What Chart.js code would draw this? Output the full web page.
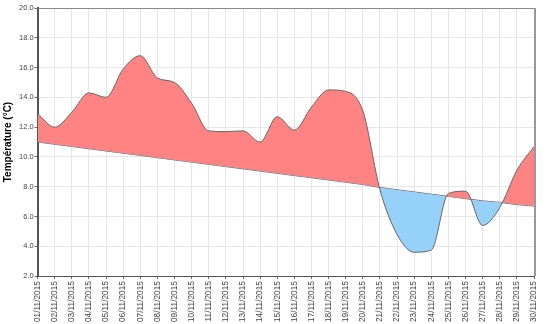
<!DOCTYPE html>
<html>
<head>
<meta charset="utf-8">
<script src="https://cdn.jsdelivr.net/npm/chart.js@4"></script>
<style>
  html, body { margin: 0; padding: 0; background: #fff; }
  #wrap { width: 550px; height: 324px; }
</style>
</head>
<body>
<div id="wrap"><canvas id="tempChart"></canvas></div>
<script>
// dates
var days = ["01/11/2015", "02/11/2015", "03/11/2015", "04/11/2015", "05/11/2015",
  "06/11/2015", "07/11/2015", "08/11/2015", "09/11/2015", "10/11/2015",
  "11/11/2015", "12/11/2015", "13/11/2015", "14/11/2015", "15/11/2015",
  "16/11/2015", "17/11/2015", "18/11/2015", "19/11/2015", "20/11/2015",
  "21/11/2015", "22/11/2015", "23/11/2015", "24/11/2015", "25/11/2015",
  "26/11/2015", "27/11/2015", "28/11/2015", "29/11/2015", "30/11/2015"];

// daily temperature
var temps = [12.9, 12.0, 13.0, 14.3, 14.0, 15.9, 16.8, 15.3, 15.0, 13.6,
  11.75, 11.7, 11.75, 11.0, 12.7, 11.8, 13.35, 14.5, 14.4, 13.1,
  7.8, 4.8, 3.6, 3.75, 7.55, 7.7, 5.4, 6.6, 9.1, 10.7];

// trend line
var trend = [11.0, 10.85, 10.70, 10.55, 10.40, 10.25, 10.10, 9.95, 9.80, 9.65,
  9.50, 9.35, 9.20, 9.05, 8.90, 8.75, 8.60, 8.45, 8.30, 8.15,
  7.95, 7.80, 7.65, 7.50, 7.35, 7.20, 7.05, 6.95, 6.80, 6.70];

var yTicks = [2, 4, 6, 8, 10, 12, 14, 16, 18, 20];

// frame on top and right side
var frame = {
  id: 'frame',
  afterDraw: function(chart) {
    var a = chart.chartArea;
    var c = chart.ctx;
    c.save();
    c.strokeStyle = '#888';
    c.lineWidth = 1;
    c.beginPath();
    c.moveTo(a.left, a.top + 0.5);
    c.lineTo(a.right, a.top + 0.5);
    c.stroke();
    c.strokeStyle = '#999';
    c.lineWidth = 2;
    c.beginPath();
    c.moveTo(a.right + 1, a.top);
    c.lineTo(a.right + 1, a.bottom);
    c.stroke();
    c.restore();
  }
};

var ctx = document.getElementById('tempChart').getContext('2d');
var chart = new Chart(ctx, {
  type: 'line',
  data: {
    labels: days,
    datasets: [{
      label: 'Température',
      data: temps,
      borderColor: '#666',
      borderWidth: 1,
      pointRadius: 0,
      tension: 0.4,
      cubicInterpolationMode: 'monotone',
      fill: { target: 1, above: '#FF8383', below: '#96D1FA' }
    },
    {
      label: 'Tendance',
      data: trend,
      borderColor: '#666',
      borderWidth: 1,
      pointRadius: 0,
      tension: 0,
      fill: false
    }]
  },
  options: {
    responsive: true,
    maintainAspectRatio: false,
    animation: false,
    layout: { padding: { top: 8, right: 16, left: 2, bottom: 0 } },
    plugins: {
      legend: { display: false },
      tooltip: { enabled: false }
    },
    scales: {
      x: {
        offset: false,
        grid: { color: '#e6e6e6', drawTicks: true, tickLength: 3, tickColor: '#666' },
        border: { color: '#555', width: 1 },
        ticks: {
          color: '#444',
          font: { family: 'Liberation Sans', size: 8.3 },
          minRotation: 90,
          maxRotation: 90,
          autoSkip: false,
          padding: 2
        }
      },
      y: {
        min: 2,
        max: 20,
        afterBuildTicks: function(axis) {
          axis.ticks = yTicks.map(function(v) { return { value: v }; });
        },
        grid: { color: '#e6e6e6', tickLength: 3, tickColor: '#666' },
        border: { color: '#555', width: 2 },
        ticks: {
          color: '#444',
          font: { family: 'Liberation Sans', size: 7.5 },
          padding: 1,
          callback: function(v) { return v.toFixed(1); }
        },
        title: {
          display: true,
          text: 'Température (°C)',
          color: '#000',
          font: { family: 'Liberation Sans', size: 10, weight: 'bold' },
          padding: { top: 0, bottom: 4 }
        }
      }
    }
  },
  plugins: [frame]
});
</script>
</body>
</html>
